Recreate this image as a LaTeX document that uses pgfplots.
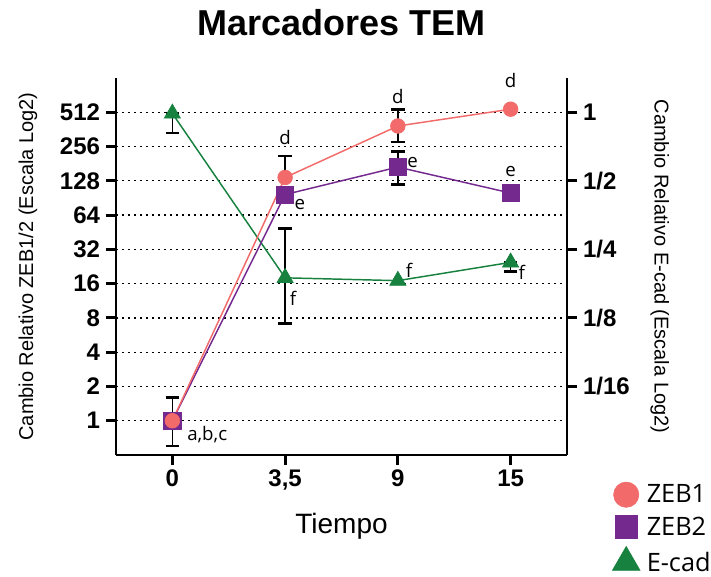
\documentclass[border=0pt]{standalone}
\usepackage{pgfplots}
\pgfplotsset{compat=1.18}
\usepackage{fontspec}
\setmainfont{Liberation Sans}
\newfontfamily\myriad{Open Sans}
\definecolor{zebone}{HTML}{F26A6A}
\definecolor{zebtwo}{HTML}{74298F}
\definecolor{ecad}{HTML}{17813F}
\pgfplotsset{bigmarklegend/.style={legend image code/.code={\draw[mark repeat=2, mark phase=2, ##1] plot coordinates {(0cm,0cm) (0.5cm,0cm) (1cm,0cm)};}}}

\pgfplotstableread{
x y ep em
0 500 0 164
1 18 31 10.9
3 24.6 0 4.1
}\ecaderr
\pgfplotstableread{
x y ep em
0 1 0.6 0.4
1 137 74 0
2 388 157 108
}\zeboneerr
\pgfplotstableread{
x y ep em
1 97 12 5
2 169 64 50
}\zebtwoerr

\begin{document}
\begin{tikzpicture}
\path[use as bounding box] (-87pt,-90.75pt) rectangle (446.25pt,341.25pt);
\begin{axis}[
  at={(0,0)}, anchor=south west, scale only axis, clip=false,
  width=338.25pt, height=282.75pt,
  xmin=-0.5, xmax=3.5,
  ymode=log, log basis y=2, ymin=0.5, ymax=1024,
  axis x line*=bottom, axis y line*=left,
  axis line style={line width=2.2pt, -},
  xtick={0,1,2,3}, xticklabels={0,{3,5},9,15},
  ytick={1,2,4,8,16,32,64,128,256,512},
  yticklabels={1,2,4,8,16,32,64,128,256,512},
  minor ytick={}, 
  ymajorgrids, grid style={black, line width=1pt, dash pattern=on 1.2pt off 3.3pt},
  tick align=outside, major tick length=7.5pt,
  every tick/.style={black, line width=2.2pt},
  xtick pos=left, ytick pos=left,
  ticklabel style={font=\fontsize{18}{20}\selectfont\bfseries},
  yticklabel style={xshift=-1pt},
  xlabel={Tiempo},
  xlabel style={font=\fontsize{21}{24}\selectfont, at={(axis description cs:0.5,-0.19)}, anchor=center},
  ylabel={Cambio Relativo ZEB1/2 (Escala Log2)},
  ylabel style={font=\fontsize{15}{18}\selectfont, at={(axis description cs:-0.195,0.5)}, anchor=center},
]
% error bars
\addplot[only marks, mark=none, forget plot, error bars/.cd, y dir=both, y explicit,
  error bar style={black, line width=1.3pt},
  error mark options={rotate=90, mark size=5pt, line width=2pt, black}]
  table[x=x, y=y, y error plus=ep, y error minus=em] {\ecaderr};
\addplot[only marks, mark=none, forget plot, error bars/.cd, y dir=both, y explicit,
  error bar style={black, line width=1.3pt},
  error mark options={rotate=90, mark size=5pt, line width=2pt, black}]
  table[x=x, y=y, y error plus=ep, y error minus=em] {\zebtwoerr};
\addplot[only marks, mark=none, forget plot, error bars/.cd, y dir=both, y explicit,
  error bar style={black, line width=1.3pt},
  error mark options={rotate=90, mark size=5pt, line width=2pt, black}]
  table[x=x, y=y, y error plus=ep, y error minus=em] {\zeboneerr};
% series
\addplot[ecad, line width=1.1pt, mark=triangle*, mark size=7pt, mark options={fill=ecad, draw=ecad, line width=0.5pt}, forget plot]
  coordinates {(0,500) (1,18) (2,17) (3,24.6)};
\addplot[zebtwo, line width=1.1pt, mark=square*, mark size=6.5pt, mark options={fill=zebtwo, draw=zebtwo, line width=0.5pt}, forget plot]
  coordinates {(0,1) (1,97) (2,169) (3,100)};
\addplot[zebone, line width=1.1pt, mark=*, mark size=5.5pt, mark options={fill=zebone, draw=zebone, line width=0.5pt}, forget plot]
  coordinates {(0,1) (1,137) (2,388) (3,545)};
% letters
\begin{scope}[every node/.style={font=\myriad\fontsize{14}{16}\selectfont, inner sep=0pt}]
\node[anchor=west] at (axis cs:0.13,0.75) {a,b,c};
\node at (axis cs:1,309) {d};
\node at (axis cs:2,710) {d};
\node at (axis cs:3,982) {d};
\node at (axis cs:1.13,80) {e};
\node at (axis cs:2.13,186) {e};
\node at (axis cs:3,155) {e};
\node at (axis cs:1.07,12) {f};
\node at (axis cs:2.1,21) {f};
\node at (axis cs:3.1,20) {f};
\end{scope}
\node[font=\fontsize{27}{31}\selectfont\bfseries] at (axis description cs:0.5,1.148) {Marcadores TEM};
\end{axis}
\begin{axis}[
  at={(0,0)}, anchor=south west, scale only axis, clip=false,
  width=338.25pt, height=282.75pt,
  xmin=-0.5, xmax=3.5,
  ymode=log, log basis y=2, ymin=0.03125, ymax=1.41421356,
  hide x axis,
  axis y line*=right,
  axis line style={line width=2.2pt, -},
  ytick={0.0625,0.125,0.25,0.5,1},
  yticklabels={1/16,1/8,1/4,1/2,1},
  minor ytick={},
  tick align=outside, major tick length=7.5pt,
  every tick/.style={black, line width=2.2pt},
  ytick pos=right,
  ticklabel style={font=\fontsize{18}{20}\selectfont\bfseries},
  yticklabel style={xshift=1pt},
  ylabel={Cambio Relativo E-cad (Escala Log2)},
  ylabel style={font=\fontsize{15}{18}\selectfont, at={(axis description cs:1.206,0.5)}, anchor=center, rotate=180},
  legend style={draw=none, fill=none, inner sep=0pt, at={(axis description cs:1.10,-0.071)}, anchor=north west,
    font=\myriad\fontsize{19}{22}\selectfont, row sep=6pt, column sep=4pt, nodes={inner sep=1pt}},
  legend cell align=left,
]
\addlegendimage{only marks, mark=*, mark size=9.5pt, zebone, mark options={fill=zebone, draw=zebone}, bigmarklegend}
\addlegendentry{ZEB1}
\addlegendimage{only marks, mark=square*, mark size=8.5pt, zebtwo, mark options={fill=zebtwo, draw=zebtwo}, bigmarklegend}
\addlegendentry{ZEB2}
\addlegendimage{only marks, mark=triangle*, mark size=12pt, ecad, mark options={fill=ecad, draw=ecad}, bigmarklegend}
\addlegendentry{E-cad}
\end{axis}
\end{tikzpicture}
\end{document}
